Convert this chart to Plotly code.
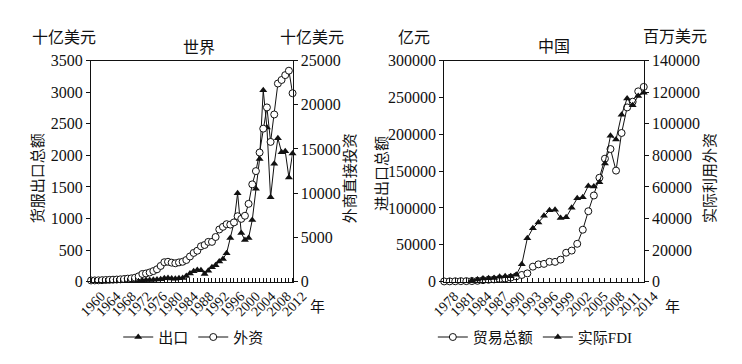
import plotly.graph_objects as go

W, H = 742, 364

# ---------------- data: world ----------------
world_years = list(range(1960, 2016))
world_chukou_years = list(range(1970, 2016))
# triangles (left axis, 十亿美元)
world_chukou = [10, 12, 15, 20, 20, 25, 25, 30, 35, 40,
                55, 60, 50, 45, 55, 60, 90, 130, 165, 185,
                180, 120, 175, 230, 260, 320, 360, 450, 690, 930,
                1400, 770, 660, 690, 975, 1470, 1940, 3030, 2440, 1335,
                1865, 2270, 2050, 2065, 1650, 2030]
# circles (right axis, 十亿美元)
world_waizi = [140, 145, 155, 170, 190, 205, 225, 240, 265, 300,
               345, 380, 450, 610, 870, 930, 1040, 1200, 1400, 1780,
               2200, 2250, 2150, 2080, 2180, 2250, 2450, 2850, 3250, 3500,
               4000, 4150, 4500, 4500, 5050, 5900, 6200, 6500, 6450, 6700,
               7400, 7100, 7450, 8800, 11000, 12500, 14600, 17300, 19700, 15800,
               18900, 22400, 22800, 23350, 23850, 21300]
world_tick_labels = [str(y) for y in range(1960, 2013, 4)]

# ---------------- data: China ----------------
china_years = list(range(1978, 2015))
china_trade = [355, 455, 570, 735, 771, 860, 1201, 2067, 2580, 3084,
               3822, 4156, 5560, 7226, 9120, 11271, 20382, 23500, 24134, 26967,
               26850, 29896, 39273, 42184, 51378, 70484, 95539, 116922, 140974, 166863,
               179921, 150648, 201722, 236402, 244160, 258169, 264242]
china_fdi_years = list(range(1983, 2015))
china_fdi = [916, 1419, 1956, 2244, 2314, 3194, 3392, 3487, 4366, 11008,
             27515, 33767, 37521, 41726, 45257, 45463, 40319, 40715, 46878, 52743,
             53505, 60630, 60325, 63021, 74768, 92395, 90033, 105735, 116011, 111716,
             117586, 119562]

# ---------------- layout helpers ----------------
def px(x):
    return x / W

def py(y):
    return 1 - y / H

FONT = "'Liberation Serif', 'Times New Roman', 'Noto Sans CJK SC', serif"
INK = "#111111"

y_dom = [py(278.7), py(46.7)]
xw_dom = [px(73), px(283)]
xc_dom = [px(441), px(649)]

fig = go.Figure()

tri = dict(symbol="triangle-up", size=7, color=INK, line=dict(width=0))
circ = dict(symbol="circle", size=7, color="white", line=dict(color=INK, width=1))

fig.add_trace(go.Scatter(x=world_chukou_years, y=world_chukou, name="出口",
                         mode="lines+markers", line=dict(color=INK, width=1),
                         marker=tri, xaxis="x", yaxis="y", legend="legend",
                         cliponaxis=False))
fig.add_trace(go.Scatter(x=world_years, y=world_waizi, name="外资",
                         mode="lines+markers", line=dict(color=INK, width=1),
                         marker=circ, xaxis="x", yaxis="y2", legend="legend",
                         cliponaxis=False))
fig.add_trace(go.Scatter(x=china_years, y=china_trade, name="贸易总额",
                         mode="lines+markers", line=dict(color=INK, width=1),
                         marker=circ, xaxis="x2", yaxis="y3", legend="legend2",
                         cliponaxis=False))
fig.add_trace(go.Scatter(x=china_fdi_years, y=china_fdi, name="实际FDI",
                         mode="lines+markers", line=dict(color=INK, width=1),
                         marker=tri, xaxis="x2", yaxis="y4", legend="legend2",
                         cliponaxis=False))

n_lab = len(world_tick_labels)
world_tick_pos = [1960 + i * (2015 - 1960) / (n_lab - 1) for i in range(n_lab)]

common_x = dict(showline=True, linecolor=INK, linewidth=1, mirror=True,
                showgrid=False, zeroline=False, tickangle=-45,
                tickfont=dict(family=FONT, size=14, color=INK),
                ticklabelshift=10)
common_y = dict(showline=True, linecolor=INK, linewidth=1, showgrid=False,
                zeroline=False, ticks="outside", ticklen=4, tickcolor=INK,
                tickformat="d",
                tickfont=dict(family=FONT, size=16, color=INK))

fig.update_layout(
    width=W, height=H, margin=dict(l=0, r=0, t=0, b=0),
    paper_bgcolor="white", plot_bgcolor="white",
    font=dict(family=FONT, color=INK),
    xaxis=dict(domain=xw_dom, range=[1960, 2015], anchor="y",
               tickmode="array", tickvals=world_tick_pos, ticktext=world_tick_labels,
               ticks="",
               minor=dict(ticks="inside", ticklen=4, tickcolor=INK,
                          tickmode="linear", tick0=1960, dtick=1),
               **common_x),
    yaxis=dict(domain=y_dom, range=[0, 3500], dtick=500, anchor="x", side="left",
               **common_y),
    yaxis2=dict(range=[0, 25000], dtick=5000, anchor="x", overlaying="y",
                side="right", **common_y),
    xaxis2=dict(domain=xc_dom, range=[1978, 2014], anchor="y3",
                tickmode="linear", tick0=1978, dtick=3,
                ticks="inside", ticklen=4, tickcolor=INK,
                minor=dict(ticks="inside", ticklen=4, tickcolor=INK, dtick=1),
                **common_x),
    yaxis3=dict(domain=y_dom, range=[0, 300000], dtick=50000, anchor="x2",
                side="left", **common_y),
    yaxis4=dict(range=[0, 140000], dtick=20000, anchor="x2", overlaying="y3",
                side="right", **common_y),
    legend=dict(orientation="h", x=px(180), y=py(337), xanchor="center",
                yanchor="middle", font=dict(family=FONT, size=15, color=INK),
                bgcolor="rgba(0,0,0,0)", itemwidth=30, tracegroupgap=0),
    legend2=dict(orientation="h", x=px(536), y=py(337), xanchor="center",
                 yanchor="middle", font=dict(family=FONT, size=15, color=INK),
                 bgcolor="rgba(0,0,0,0)", itemwidth=30, tracegroupgap=0),
    showlegend=True,
)

def ann(text, x, y, size=16, angle=0):
    fig.add_annotation(text=text, x=px(x), y=py(y), xref="paper", yref="paper",
                       showarrow=False, textangle=angle,
                       font=dict(family=FONT, size=size, color=INK),
                       xanchor="center", yanchor="middle")

ann("十亿美元", 45, 23)
ann("世界", 186, 33)
ann("十亿美元", 303, 23)
ann("亿元", 410, 23)
ann("中国", 555, 32)
ann("百万美元", 682, 22)
ann("货服出口总额", 18, 170, size=15, angle=-90)
ann("外商直接投资", 343, 170, size=15, angle=-90)
ann("进出口总额", 376, 165, size=15, angle=-90)
ann("实际利用外资", 718, 170, size=15, angle=-90)
ann("年", 309, 305, size=15)
ann("年", 679, 305, size=15)

fig.write_html("out.html")
